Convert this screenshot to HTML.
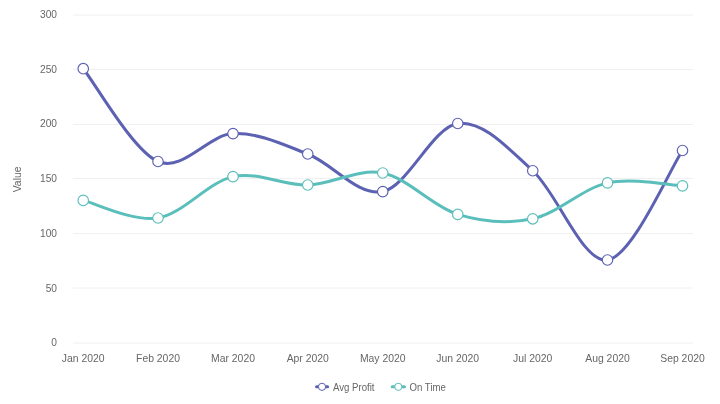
<!DOCTYPE html><html><head><meta charset="utf-8"><title>Chart</title><style>html,body{margin:0;padding:0;background:#fff}svg{display:block;will-change:transform;opacity:0.999}text{font-family:"Liberation Sans",Arial,sans-serif;fill:#666666}</style></head><body>
<svg width="720" height="404" viewBox="0 0 720 404">
<rect width="720" height="404" fill="#ffffff"/>
<line x1="73" x2="693" y1="15" y2="15" stroke="#f0f0f0" stroke-width="1"/>
<line x1="73" x2="693" y1="69.5" y2="69.5" stroke="#f0f0f0" stroke-width="1"/>
<line x1="73" x2="693" y1="124.5" y2="124.5" stroke="#f0f0f0" stroke-width="1"/>
<line x1="73" x2="693" y1="178.5" y2="178.5" stroke="#f0f0f0" stroke-width="1"/>
<line x1="73" x2="693" y1="233.5" y2="233.5" stroke="#f0f0f0" stroke-width="1"/>
<line x1="73" x2="693" y1="288" y2="288" stroke="#f0f0f0" stroke-width="1"/>
<line x1="73" x2="693" y1="343" y2="343" stroke="#f0f0f0" stroke-width="1"/>
<text x="57" y="18" font-size="10.2" text-anchor="end">300</text>
<text x="57" y="73" font-size="10.2" text-anchor="end">250</text>
<text x="57" y="127" font-size="10.2" text-anchor="end">200</text>
<text x="57" y="182" font-size="10.2" text-anchor="end">150</text>
<text x="57" y="237" font-size="10.2" text-anchor="end">100</text>
<text x="57" y="292" font-size="10.2" text-anchor="end">50</text>
<text x="57" y="346" font-size="10.2" text-anchor="end">0</text>
<text x="83.25" y="362" font-size="10.4" text-anchor="middle">Jan 2020</text>
<text x="158.00" y="362" font-size="10.4" text-anchor="middle">Feb 2020</text>
<text x="233.00" y="362" font-size="10.4" text-anchor="middle">Mar 2020</text>
<text x="307.75" y="362" font-size="10.4" text-anchor="middle">Apr 2020</text>
<text x="382.75" y="362" font-size="10.4" text-anchor="middle">May 2020</text>
<text x="457.75" y="362" font-size="10.4" text-anchor="middle">Jun 2020</text>
<text x="532.75" y="362" font-size="10.4" text-anchor="middle">Jul 2020</text>
<text x="607.50" y="362" font-size="10.4" text-anchor="middle">Aug 2020</text>
<text x="682.50" y="362" font-size="10.4" text-anchor="middle">Sep 2020</text>
<text transform="translate(21.2,179.4) rotate(-90)" font-size="10.4" text-anchor="middle">Value</text>
<path d="M83.25 68.70 C95.71 84.17 133.04 150.68 158.00 161.50 C182.96 172.32 208.04 134.85 233.00 133.60 C257.96 132.35 282.79 144.33 307.75 154.00 C332.71 163.67 357.75 196.68 382.75 191.60 C407.75 186.52 432.75 126.97 457.75 123.50 C482.75 120.03 507.79 148.00 532.75 170.75 C557.71 193.50 582.54 263.38 607.50 260.00 C632.46 256.62 670.00 168.75 682.50 150.50" fill="none" stroke="#5c61b2" stroke-width="3" stroke-linecap="round" stroke-linejoin="round"/>
<circle cx="83.25" cy="68.70" r="5.25" fill="#fff" stroke="#5c61b2" stroke-width="1.15"/>
<circle cx="158.00" cy="161.50" r="5.25" fill="#fff" stroke="#5c61b2" stroke-width="1.15"/>
<circle cx="233.00" cy="133.60" r="5.25" fill="#fff" stroke="#5c61b2" stroke-width="1.15"/>
<circle cx="307.75" cy="154.00" r="5.25" fill="#fff" stroke="#5c61b2" stroke-width="1.15"/>
<circle cx="382.75" cy="191.60" r="5.25" fill="#fff" stroke="#5c61b2" stroke-width="1.15"/>
<circle cx="457.75" cy="123.50" r="5.25" fill="#fff" stroke="#5c61b2" stroke-width="1.15"/>
<circle cx="532.75" cy="170.75" r="5.25" fill="#fff" stroke="#5c61b2" stroke-width="1.15"/>
<circle cx="607.50" cy="260.00" r="5.25" fill="#fff" stroke="#5c61b2" stroke-width="1.15"/>
<circle cx="682.50" cy="150.50" r="5.25" fill="#fff" stroke="#5c61b2" stroke-width="1.15"/>
<path d="M83.25 200.40 C95.71 203.33 133.04 221.96 158.00 218.00 C182.96 214.04 208.04 182.15 233.00 176.65 C257.96 171.15 282.79 185.61 307.75 185.00 C332.71 184.39 357.75 168.10 382.75 173.00 C407.75 177.90 432.75 206.77 457.75 214.40 C482.75 222.03 507.79 224.05 532.75 218.80 C557.71 213.55 582.54 188.39 607.50 182.90 C632.46 177.41 670.00 185.36 682.50 185.85" fill="none" stroke="#5abebb" stroke-width="3" stroke-linecap="round" stroke-linejoin="round"/>
<circle cx="83.25" cy="200.40" r="5.25" fill="#fff" stroke="#5abebb" stroke-width="1.15"/>
<circle cx="158.00" cy="218.00" r="5.25" fill="#fff" stroke="#5abebb" stroke-width="1.15"/>
<circle cx="233.00" cy="176.65" r="5.25" fill="#fff" stroke="#5abebb" stroke-width="1.15"/>
<circle cx="307.75" cy="185.00" r="5.25" fill="#fff" stroke="#5abebb" stroke-width="1.15"/>
<circle cx="382.75" cy="173.00" r="5.25" fill="#fff" stroke="#5abebb" stroke-width="1.15"/>
<circle cx="457.75" cy="214.40" r="5.25" fill="#fff" stroke="#5abebb" stroke-width="1.15"/>
<circle cx="532.75" cy="218.80" r="5.25" fill="#fff" stroke="#5abebb" stroke-width="1.15"/>
<circle cx="607.50" cy="182.90" r="5.25" fill="#fff" stroke="#5abebb" stroke-width="1.15"/>
<circle cx="682.50" cy="185.85" r="5.25" fill="#fff" stroke="#5abebb" stroke-width="1.15"/>
<line x1="316.5" x2="327.6" y1="386.8" y2="386.8" stroke="#5c61b2" stroke-width="3" stroke-linecap="round"/>
<circle cx="322" cy="386.8" r="3.6" fill="#fff" stroke="#5c61b2" stroke-width="1"/>
<text x="333" y="390.6" font-size="10.7" text-anchor="start" textLength="41.5" lengthAdjust="spacingAndGlyphs">Avg Profit</text>
<line x1="392.2" x2="404.5" y1="386.8" y2="386.8" stroke="#5abebb" stroke-width="3" stroke-linecap="round"/>
<circle cx="398.3" cy="386.8" r="3.6" fill="#fff" stroke="#5abebb" stroke-width="1"/>
<text x="409.5" y="390.6" font-size="10.7" text-anchor="start" textLength="36.4" lengthAdjust="spacingAndGlyphs">On Time</text>
</svg></body></html>
